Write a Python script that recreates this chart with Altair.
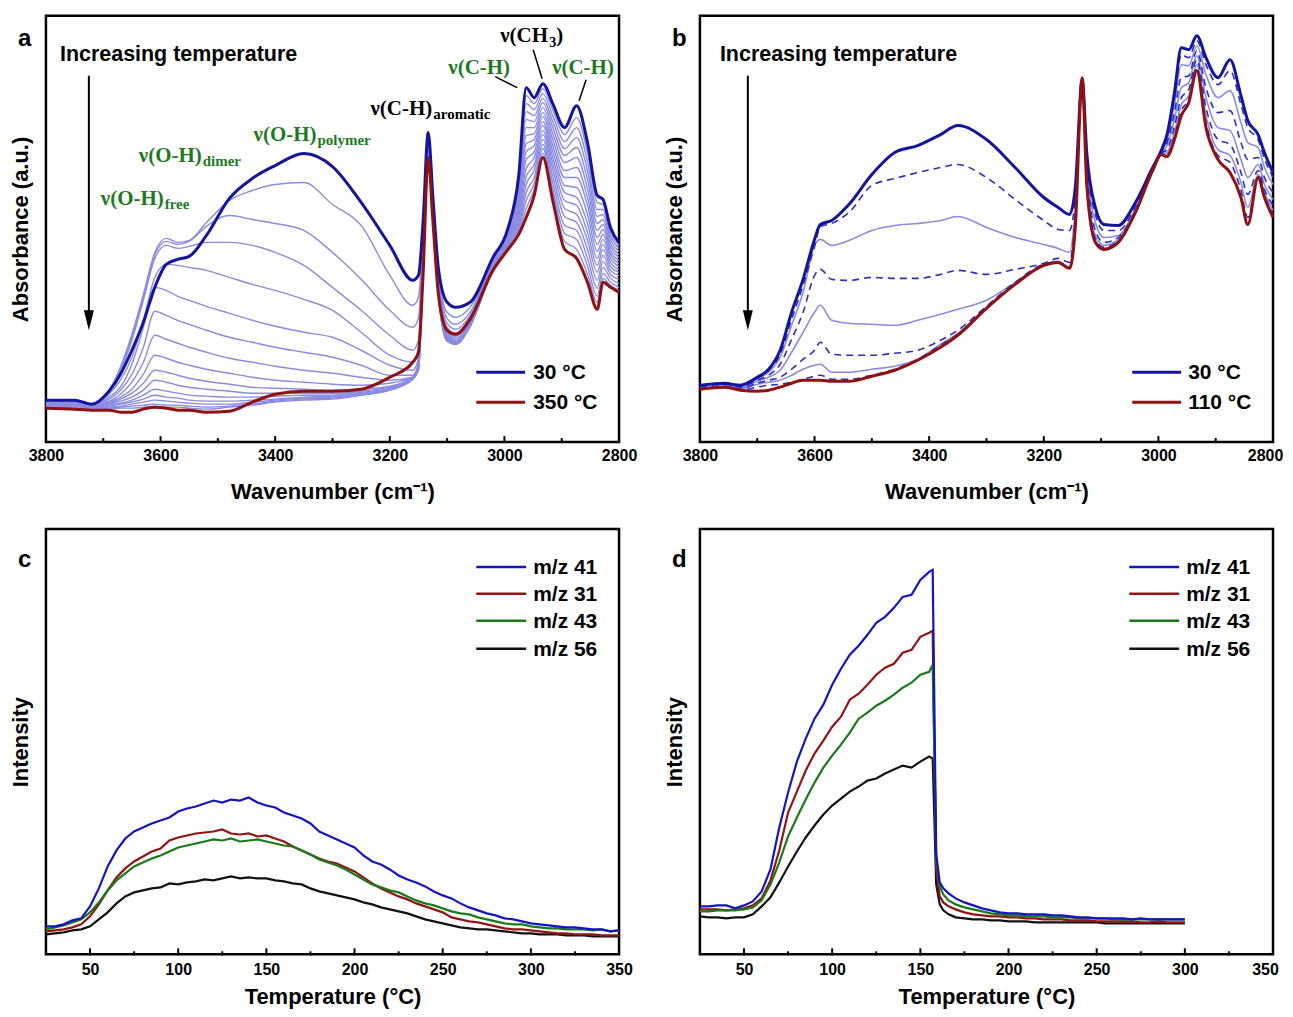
import altair as alt
import pandas as pd

SANS = "Liberation Sans"
SERIF = "Liberation Serif"
NAVY = "#14149e"
DARKRED = "#8f1212"
LIGHT = "#8b8be0"
DASHC = "#2e2ebd"
GREENT = "#1f7a1f"

W, H = 574, 427
ONE = pd.DataFrame({"k": [0]})

# ---------------- panel a : DRIFTS spectra 30 -> 350 C ----------------
WN_A = [3800, 3750, 3720, 3690, 3670, 3650, 3630, 3610, 3590, 3570, 3550, 3520, 3480, 3440,
        3400, 3350, 3300, 3250, 3200, 3160, 3150, 3142, 3133, 3125, 3115, 3100, 3085, 3060,
        3020, 2995, 2975, 2962, 2948, 2933, 2915, 2895, 2874, 2855, 2838, 2828, 2815, 2800]
A_30 = [42,42,38,51,68,92,120,155,178,183,186,207,244,264,277,289,276,240,197,162,167,220,310,247,173,140,135,140,185,212,267,355,345,359,338,315,337,300,247,243,215,200]
A_50 = [41,41,38,52,75,108,148,190,204,200,202,220,242,252,258,260,238,217,167,137,145,212,308,245,170,130,125,135,184,211,263,347,339,354,332,308,325,290,240,238,211,197]
A_70 = [41,41,38,51,73,105,145,188,201,198,201,216,227,223,219,212,190,163,132,115,124,207,306,243,167,124,118,130,183,210,259,339,333,349,326,301,315,281,233,233,207,194]
A_90 = [40,40,37,50,71,102,142,184,197,194,196,200,200,197,190,177,155,132,107,92,102,202,305,241,164,119,113,127,182,208,255,331,327,344,320,294,305,272,226,228,203,191]
A_110 = [40,40,37,48,62,85,122,165,178,177,175,172,165,158,152,143,132,110,87,80,90,198,303,239,161,115,109,124,181,207,251,323,321,340,314,287,295,263,219,223,199,188]
A_130 = [39,39,36,45,55,78,115,155,152,146,142,136,129,122,116,110,105,92,77,72,84,194,302,237,158,112,106,122,180,206,247,315,315,335,308,280,285,254,212,218,195,185]
A_150 = [39,39,36,43,52,68,95,131,127,122,118,112,105,100,95,90,85,77,67,67,80,191,300,236,156,110,104,120,179,204,243,307,309,330,302,272,275,245,205,213,191,182]
A_170 = [38,38,35,41,48,60,80,107,103,99,95,90,84,80,76,72,69,65,62,65,78,188,299,234,154,108,102,119,178,203,239,299,303,326,296,265,265,237,198,208,188,179]
A_190 = [38,38,35,40,45,53,68,87,84,80,77,73,69,65,62,60,58,57,59,65,77,185,297,233,153,106,101,118,177,202,235,291,297,321,290,257,255,228,191,203,184,176]
A_210 = [37,37,35,39,43,49,59,72,70,67,64,61,58,55,54,53,52,53,56,65,76,182,295,231,151,105,100,118,176,201,231,283,291,317,284,250,245,219,184,198,180,173]
A_230 = [37,37,34,38,41,45,52,62,60,57,55,53,51,49,49,49,49,51,55,65,75,179,294,230,150,104,99,117,175,199,227,274,285,312,278,242,237,210,177,193,176,170]
A_250 = [36,36,34,37,39,42,47,53,51,49,47,46,45,45,46,47,47,50,54,64,75,176,292,228,149,103,99,117,175,198,223,266,278,308,272,234,228,202,170,187,172,167]
A_270 = [36,36,33,36,38,40,43,47,45,44,42,41,41,42,43,45,46,49,53,64,74,174,290,227,148,102,98,116,174,197,219,258,272,303,265,226,220,193,162,181,168,163]
A_290 = [35,35,33,35,36,38,40,42,41,40,39,38,38,40,42,44,45,48,53,63,73,172,289,226,147,102,98,116,174,196,216,250,265,298,258,217,212,184,154,175,164,159]
A_310 = [35,35,32,34,35,36,37,38,37,37,36,35,36,38,41,43,44,47,52,63,73,170,288,225,146,101,98,116,173,195,213,242,259,294,251,209,203,176,146,169,160,155]
A_330 = [34,34,32,33,34,34,35,36,35,35,34,33,35,37,40,42,43,47,52,63,72,168,286,224,145,101,98,116,173,194,210,234,253,289,245,201,193,168,140,164,157,152]
A_350 = [34,33,32,32,30,30,33,35,34,32,32,30,31,40,48,51,51,53,65,80,90,167,285,223,147,112,108,123,172,192,208,225,247,285,240,193,184,160,133,160,155,150]
TEMPS_A = [30, 50, 70, 90, 110, 130, 150, 170, 190, 210, 230, 250, 270, 290, 310, 330, 350]
SERIES_A = [A_30, A_50, A_70, A_90, A_110, A_130, A_150, A_170, A_190, A_210, A_230,
            A_250, A_270, A_290, A_310, A_330, A_350]

# ---------------- panel b : DRIFTS spectra 30 -> 110 C ----------------
WN_B = [3800, 3755, 3745, 3730, 3700, 3680, 3660, 3640, 3620, 3600, 3590, 3570, 3540, 3500,
        3460, 3420, 3380, 3350, 3300, 3250, 3200, 3175, 3155, 3145, 3133, 3125, 3110, 3095,
        3070, 3040, 3010, 2995, 2985, 2972, 2960, 2947, 2933, 2917, 2896, 2875, 2856, 2844,
        2826, 2815, 2800]
B_30 = [57,59,58,57,65,73,92,130,163,203,218,222,238,268,290,297,308,317,303,275,245,235,228,255,363,290,235,218,217,240,275,292,308,350,395,393,407,385,365,383,347,322,308,290,270]
B_40 = [57,59,58,56,64,72,88,123,157,196,216,219,230,257,264,270,275,278,265,243,222,213,212,245,363,286,228,212,212,236,274,291,306,345,388,385,402,378,358,372,338,315,303,284,265]
B_50 = [56,58,57,55,63,70,85,117,150,197,203,197,202,212,217,219,222,226,215,205,198,194,190,235,364,281,220,205,207,234,274,290,303,338,378,377,397,368,345,352,320,300,295,275,258]
B_60 = [56,58,57,55,62,67,78,103,130,167,173,163,162,165,164,164,168,172,168,173,179,184,180,228,364,276,212,200,205,232,273,290,300,330,365,367,392,355,330,332,300,283,285,265,250]
B_70 = [55,57,56,54,61,65,72,90,110,130,137,122,119,118,117,122,128,133,142,160,178,181,175,222,364,271,207,197,203,231,273,289,297,323,355,360,387,345,315,312,283,265,278,258,243]
B_80 = [55,56,55,53,59,62,65,73,83,92,100,88,87,87,89,92,102,112,136,160,178,180,175,218,365,266,204,195,202,230,272,289,293,316,345,353,383,335,303,298,270,248,272,253,237]
B_90 = [54,56,55,53,58,60,62,67,73,77,78,70,70,73,76,83,98,109,135,159,177,180,174,216,365,262,202,194,201,230,272,288,290,310,338,347,378,327,293,287,260,235,268,250,232]
B_100 = [54,55,54,52,55,57,58,60,63,66,67,63,63,67,73,83,97,108,135,158,177,180,174,215,365,259,201,193,200,230,272,288,288,306,332,343,375,320,287,280,252,225,266,247,228]
B_110 = [53,55,54,52,51,52,55,59,62,62,62,61,61,66,72,82,95,107,134,158,177,180,174,215,365,257,200,193,200,230,272,288,286,303,327,340,372,315,283,270,245,218,265,245,225]
TEMPS_B = [30, 40, 50, 60, 70, 80, 90, 100, 110]
SERIES_B = [B_30, B_40, B_50, B_60, B_70, B_80, B_90, B_100, B_110]

# ---------------- panel c : MS signals, 25 -> 350 C ----------------
T_C = list(range(25, 351, 5))
C_41 = [28,28,30,34,36,48,66,88,104,116,123,127,131,134,137,143,146,148,151,154,152,155,154,157,152,149,147,142,139,136,131,123,119,115,111,107,99,93,90,85,79,75,72,68,63,59,56,51,47,44,41,39,36,35,33,31,30,29,28,27,27,26,25,25,23,24]
C_31 = [23,24,25,27,30,38,50,64,77,86,93,98,103,106,114,117,119,121,122,123,125,121,120,121,118,119,116,113,108,104,100,96,93,91,87,83,77,71,66,62,58,55,51,48,45,42,37,35,33,32,30,28,26,25,25,24,23,22,21,21,20,20,20,19,19,19]
C_43 = [25,27,29,32,35,42,52,64,74,81,88,92,96,99,103,107,109,111,113,115,114,116,113,114,115,113,111,109,108,104,100,95,92,89,85,80,75,70,67,64,62,58,54,51,49,46,43,41,40,37,35,33,31,30,30,28,27,26,26,25,25,25,24,25,23,24]
C_56 = [20,21,22,24,25,28,35,42,51,58,62,64,66,67,71,70,72,73,75,74,76,78,76,77,76,76,74,73,71,70,66,63,61,59,57,55,52,50,47,45,43,41,38,35,33,31,29,27,26,25,25,24,23,22,21,21,20,20,20,19,19,19,18,18,18,18]

# ---------------- panel d : MS signals, 25 -> 300 C ----------------
T_D = list(range(25, 156, 5)) + [157, 159, 161, 163, 166] + list(range(170, 301, 5))
D_41 = [48,48,49,49,46,49,53,63,85,127,162,193,216,236,250,270,286,300,309,320,332,338,347,358,360,375,383,385,100,72,66,61,56,52,49,46,44,42,41,41,40,40,40,39,39,38,37,37,36,36,36,36,35,36,35,35,35,35,35]
D_31 = [45,45,45,44,45,46,49,56,74,104,142,163,184,201,214,228,238,255,261,270,280,287,291,302,305,318,322,324,85,58,52,48,45,42,40,39,38,38,37,37,36,36,35,35,35,34,34,34,33,33,33,33,33,32,32,33,32,32,32]
D_43 = [43,43,44,44,44,45,47,54,70,92,118,137,155,172,187,199,210,222,236,242,249,254,260,267,272,280,283,290,95,68,60,54,50,47,45,43,41,40,39,39,38,38,38,37,37,37,36,36,36,36,35,35,35,35,35,35,35,35,35]
D_56 = [38,37,37,36,37,37,40,48,57,72,88,103,117,129,140,149,156,163,168,174,176,181,185,189,187,193,198,196,70,50,44,40,37,36,35,35,34,34,33,33,33,32,32,32,32,32,32,32,32,31,31,31,31,31,31,31,31,31,31]

MS_LABELS = ["m/z 41", "m/z 31", "m/z 43", "m/z 56"]
MS_COLORS = ["#1414c4", "#921414", "#1a7a1a", "#111111"]
MS_DRAW_ORDER = ["m/z 56", "m/z 31", "m/z 43", "m/z 41"]

WN_LABELS = [3800, 3600, 3400, 3200, 3000, 2800]
WN_MAJOR = [3600, 3400, 3200, 3000]
WN_MINOR = [3700, 3500, 3300, 3100, 2900]
T_LABELS = [50, 100, 150, 200, 250, 300, 350]
T_MAJOR = [50, 100, 150, 200, 250, 300]
T_MINOR = [75, 125, 175, 225, 275, 325]


def longdf(xs, keys, series, xname, kname):
    rows = []
    for k, ys in zip(keys, series):
        assert len(ys) == len(xs), (k, len(ys), len(xs))
        rows += [{xname: x, "v": y, kname: k} for x, y in zip(xs, ys)]
    return pd.DataFrame(rows)


AX = dict(labelFont=SANS, labelFontSize=16, labelFontWeight="bold", labelColor="black",
          labelFlush=False, labelOverlap=False, ticks=False, domain=False, grid=False,
          titleFont=SANS, titleFontSize=22, titleFontWeight="bold", titleColor="black")


def edge_offset(last, shift):
    # pull the right-most tick label slightly inward so the page does not overflow
    if not shift:
        return 0
    return {"condition": {"test": f"datum.value == {last}", "value": -shift}, "value": 0}


def make_x_wn(shift):
    def f(field):
        return alt.X(f"{field}:Q",
                     scale=alt.Scale(domain=[2800, 3800], reverse=True, nice=False, zero=False),
                     axis=alt.Axis(values=WN_LABELS, format="d", title="Wavenumber (cm⁻¹)",
                                   labelPadding=5, titlePadding=18,
                                   labelOffset=edge_offset(2800, shift), **AX))
    return f


def make_x_t(shift):
    def f(field):
        return alt.X(f"{field}:Q",
                     scale=alt.Scale(domain=[25, 350], nice=False, zero=False),
                     axis=alt.Axis(values=T_LABELS, format="d", title="Temperature (°C)",
                                   labelPadding=7, titlePadding=9,
                                   labelOffset=edge_offset(350, shift), **AX))
    return f


def y_enc(title, top):
    return alt.Y("v:Q", scale=alt.Scale(domain=[0, top], nice=False, zero=False),
                 axis=alt.Axis(title=title, labels=False, ticks=False, domain=False, grid=False,
                               titleFont=SANS, titleFontSize=22, titleFontWeight="bold",
                               titleColor="black", titlePadding=13))


def ticks(vals, xfun, length):
    return alt.Chart(pd.DataFrame({"t": vals})).mark_rule(color="black", strokeWidth=2).encode(
        x=xfun("t"), y=alt.value(H), y2=alt.value(H - length))


def txt(s, x, y, size, font=SANS, color="black", baseline="alphabetic"):
    return alt.Chart(ONE).mark_text(text=s, font=font, fontSize=size, fontWeight="bold",
                                    color=color, align="left", baseline=baseline).encode(
        x=alt.value(x), y=alt.value(y))


def seg(x1, y1, x2, y2, color="black", width=1.5):
    return alt.Chart(ONE).mark_rule(color=color, strokeWidth=width).encode(
        x=alt.value(x1), y=alt.value(y1), x2=alt.value(x2), y2=alt.value(y2))


def arrow(x, y1, y2):
    shaft = seg(x, y1, x, y2 - 12, "black", 2)
    head = alt.Chart(ONE).mark_point(shape="M-0.5,-1L0.5,-1L0,1Z", filled=True, size=400,
                                     color="black", opacity=1, strokeWidth=0).encode(
        x=alt.value(x), y=alt.value(y2 - 10))
    return [shaft, head]


def label_sub(main, sub, x, y, dx, color="black"):
    return [txt(main, x, y, 21, SERIF, color), txt(sub, x + dx, y + 4, 15, SERIF, color)]


YA = y_enc("Absorbance (a.u.)", 427)

# ---------- panel a ----------
xa = make_x_wn(0)
df_a = longdf(WN_A, TEMPS_A, SERIES_A, "wn", "T")
a_thin = alt.Chart(df_a[~df_a["T"].isin([30, 350])]).mark_line(
    color=LIGHT, strokeWidth=1.4, interpolate="monotone").encode(x=xa("wn"), y=YA, detail="T:N")
a_30 = alt.Chart(df_a[df_a["T"] == 30]).mark_line(
    color=NAVY, strokeWidth=3, interpolate="monotone").encode(x=xa("wn"), y=YA)
a_350 = alt.Chart(df_a[df_a["T"] == 350]).mark_line(
    color=DARKRED, strokeWidth=3, interpolate="monotone").encode(x=xa("wn"), y=YA)

ann_a = [
    txt("a", -28, 30, 24),
    txt("Increasing temperature", 14, 45, 21.5),
    *arrow(43, 60, 315),
    *label_sub("ν(O-H)", "free", 55, 190, 64, GREENT),
    *label_sub("ν(O-H)", "dimer", 93, 146, 64, GREENT),
    *label_sub("ν(O-H)", "polymer", 208, 125, 64, GREENT),
    *label_sub("ν(C-H)", "aromatic", 325, 99, 63),
    txt("ν(C-H)", 403, 58, 21, SERIF, GREENT),
    txt("ν(CH", 455, 26, 21, SERIF), txt("3", 504, 31, 14, SERIF), txt(")", 511, 26, 21, SERIF),
    txt("ν(C-H)", 507, 58, 21, SERIF, GREENT),
    seg(450, 61, 472, 72), seg(488, 34, 497, 63), seg(541, 64, 534, 85),
    seg(431, 357, 480, 357, NAVY, 3), txt("30 °C", 488, 358, 21, baseline="middle"),
    seg(431, 387, 480, 387, DARKRED, 3), txt("350 °C", 488, 388, 21, baseline="middle"),
]
pa = alt.layer(a_thin, a_30, a_350, ticks(WN_MAJOR, xa, 6), ticks(WN_MINOR, xa, 4),
               *ann_a).properties(width=W, height=H)

# ---------- panel b ----------
xb = make_x_wn(8)
df_b = longdf(WN_B, TEMPS_B, SERIES_B, "wn", "T")
b_solid = alt.Chart(df_b[df_b["T"].isin([50, 70, 90])]).mark_line(
    color=LIGHT, strokeWidth=1.6, interpolate="monotone").encode(x=xb("wn"), y=YA, detail="T:N")
b_dash = alt.Chart(df_b[df_b["T"].isin([40, 60, 80, 100])]).mark_line(
    color=DASHC, strokeWidth=1.6, strokeDash=[7, 5], interpolate="monotone").encode(
    x=xb("wn"), y=YA, detail="T:N")
b_30 = alt.Chart(df_b[df_b["T"] == 30]).mark_line(
    color=NAVY, strokeWidth=3, interpolate="monotone").encode(x=xb("wn"), y=YA)
b_110 = alt.Chart(df_b[df_b["T"] == 110]).mark_line(
    color=DARKRED, strokeWidth=3, interpolate="monotone").encode(x=xb("wn"), y=YA)
ann_b = [
    txt("b", -28, 30, 24),
    txt("Increasing temperature", 20, 45, 21.5),
    *arrow(48, 60, 315),
    seg(433, 357, 482, 357, NAVY, 3), txt("30 °C", 489, 358, 21, baseline="middle"),
    seg(433, 387, 482, 387, DARKRED, 3), txt("110 °C", 489, 388, 21, baseline="middle"),
]
pb = alt.layer(b_solid, b_dash, b_30, b_110, ticks(WN_MAJOR, xb, 6), ticks(WN_MINOR, xb, 4),
               *ann_b).properties(width=W, height=H)


# ---------- panels c, d ----------
def ms_panel(letter, xs, series, lx1, lx2, ltx, shift):
    xt = make_x_t(shift)
    df = longdf(xs, MS_LABELS, series, "T", "s")
    YI = y_enc("Intensity", 426)
    colors = dict(zip(MS_LABELS, MS_COLORS))
    layers = []
    for lab in MS_DRAW_ORDER:
        layers.append(alt.Chart(df[df["s"] == lab]).mark_line(
            color=colors[lab], strokeWidth=2.2).encode(x=xt("T"), y=YI))
    layers += [ticks(T_MAJOR, xt, 7), ticks(T_MINOR, xt, 4), txt(letter, -28, 38, 24)]
    for lab, ly in zip(MS_LABELS, [38, 65, 92, 120]):
        layers += [seg(lx1, ly, lx2, ly, colors[lab], 2.5),
                   txt(lab, ltx, ly + 1, 21, baseline="middle")]
    return alt.layer(*layers).properties(width=W, height=426)


pc = ms_panel("c", T_C, [C_41, C_31, C_43, C_56], 431, 481, 488, 0)
pdd = ms_panel("d", T_D, [D_41, D_31, D_43, D_56], 430, 480, 487, 8)

chart = alt.concat(pa, pb, pc, pdd, columns=2, spacing={"row": 87, "column": 81},
                   bounds="flush").properties(
    padding={"left": 0, "top": 5, "right": 0, "bottom": 0}
).configure_view(stroke="black", strokeWidth=2.5)

chart.save("out.html", embed_options={"renderer": "svg", "actions": False})
